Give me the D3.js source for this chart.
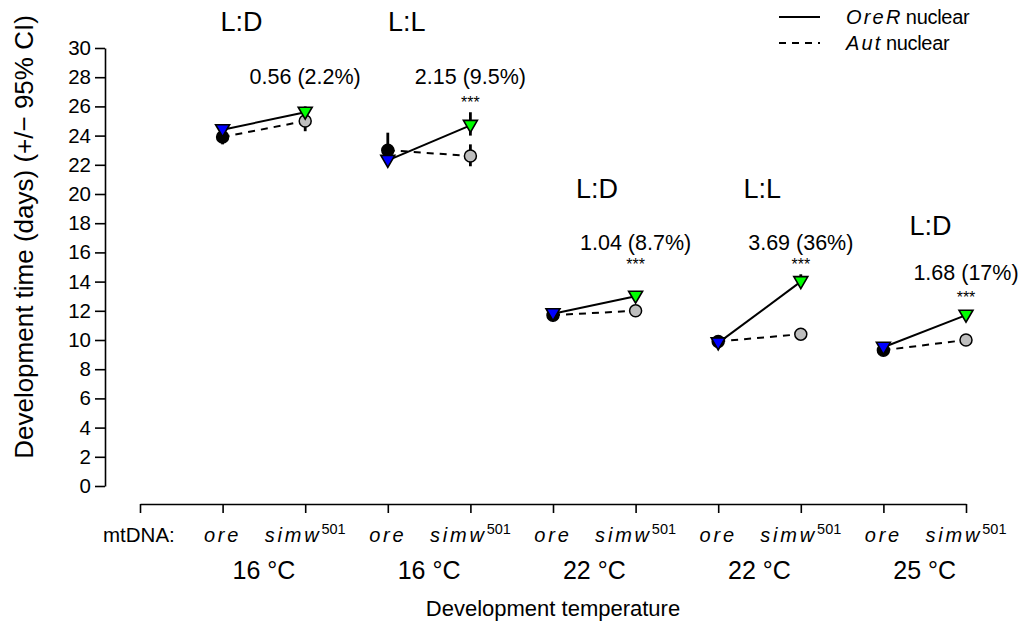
<!DOCTYPE html>
<html><head><meta charset="utf-8">
<script src="https://cdn.jsdelivr.net/npm/d3@7"></script>
<style>
body{margin:0;background:#fff;}
text{font-family:"Liberation Sans",Arial,Helvetica,sans-serif;fill:#000;}
</style></head>
<body><svg id="chart" width="1021" height="628"></svg>
<script>
// ---- data ----
const temperatures = ["16 °C","16 °C","22 °C","22 °C","25 °C"];
const photoperiods = ["L:D","L:L","L:D","L:L","L:D"];
const mtLabels = ["ore","simw"];
const yTicks = [0,2,4,6,8,10,12,14,16,18,20,22,24,26,28,30];
// OreR nuclear (solid, triangles): [ore, simw] per condition
const oreRMean = [[24.4,25.6],[22.3,24.7],[11.8,13.0],[9.8,14.0],[9.5,11.7]];
const oreRLo   = [[24.1,25.2],[22.0,24.0],[11.6,12.8],[9.6,13.7],[9.3,11.5]];
const oreRHi   = [[24.7,26.0],[22.6,25.6],[12.0,13.2],[10.0,14.5],[9.7,11.9]];
// Aut nuclear (dashed, circles)
const autMean = [[23.9,25.0],[23.0,22.6],[11.7,12.0],[9.9,10.4],[9.3,10.0]];
const autLo   = [[23.4,24.3],[22.4,21.9],[11.5,11.8],[9.7,10.2],[9.1,9.8]];
const autHi   = [[24.4,25.6],[24.2,23.4],[11.9,12.2],[10.1,10.6],[9.5,10.2]];
const effects = ["0.56 (2.2%)","2.15 (9.5%)","1.04 (8.7%)","3.69 (36%)","1.68 (17%)"];
const signif  = ["","***","***","***","***"];

// ---- layout (pixel offsets for annotations, per condition) ----
const photoDX = [19,19,44,44,47];
const photoY  = [31,31,198,198,235];
const effectY = [84,84,250,250,280];
const starY   = [108,108,270,270,303];

const svg = d3.select("#chart");
const x = d3.scaleLinear().domain([0,10]).range([140,966]);
const y = d3.scaleLinear().domain([0,30]).range([486,48]);
const pos = (i,j) => 1 + 2*i + j;

// y axis
const yAx = svg.append("g").attr("transform","translate(105,0)")
  .call(d3.axisLeft(y).tickValues(yTicks).tickSize(10).tickPadding(4).tickSizeOuter(0));
yAx.select(".domain").attr("stroke-width",1.6);
yAx.selectAll(".tick line").attr("stroke-width",1.6);
yAx.selectAll(".tick text").attr("font-size",20.5).attr("font-family","Liberation Sans, Arial, sans-serif");

// x axis
const xAx = svg.append("g").attr("transform","translate(0,504)")
  .call(d3.axisBottom(x).tickValues(d3.range(0,11)).tickSize(9).tickFormat("").tickSizeOuter(0));
xAx.select(".domain").attr("stroke-width",1.6);
xAx.selectAll(".tick line").attr("stroke-width",1.6);

// mtDNA labels
svg.append("text").attr("x",103).attr("y",542).attr("font-size",20.5).text("mtDNA:");
temperatures.forEach((t,i)=>{
  mtLabels.forEach((m,j)=>{
    const tx = svg.append("text").attr("x",x(pos(i,j))).attr("y",542)
      .attr("text-anchor","middle").attr("font-size",20);
    tx.append("tspan").attr("font-style","italic").attr("letter-spacing","2.8px").text(m);
    if(m==="simw") tx.append("tspan").attr("font-size",14.5).attr("dy",-8).text("501");
  });
  svg.append("text").attr("x",(x(pos(i,0))+x(pos(i,1)))/2).attr("y",579)
    .attr("text-anchor","middle").attr("font-size",25).text(t);
});
svg.append("text").attr("x",553).attr("y",616).attr("text-anchor","middle")
  .attr("font-size",22).text("Development temperature");
svg.append("text").attr("transform","translate(33,237) rotate(-90)")
  .attr("text-anchor","middle").attr("font-size",26)
  .text("Development time (days) (+/\u2212 95% CI)");

// series
const series = [
  {mean:autMean, lo:autLo, hi:autHi, dash:"7,6", shape:"circle", fills:["#000000","#bebebe"]},
  {mean:oreRMean, lo:oreRLo, hi:oreRHi, dash:null, shape:"tri", fills:["#0000ff","#00ff00"]}
];
const g = svg.append("g");
series.forEach(s=>{
  s.mean.forEach((pair,i)=>{
    g.append("line").attr("x1",x(pos(i,0))).attr("x2",x(pos(i,1)))
      .attr("y1",y(pair[0])).attr("y2",y(pair[1]))
      .attr("stroke","#000").attr("stroke-width",2)
      .attr("stroke-dasharray",s.dash);
  });
});
series.forEach(s=>{
  s.mean.forEach((pair,i)=>{
    pair.forEach((v,j)=>{
      g.append("line").attr("x1",x(pos(i,j))).attr("x2",x(pos(i,j)))
        .attr("y1",y(s.lo[i][j])).attr("y2",y(s.hi[i][j]))
        .attr("stroke","#000").attr("stroke-width",2.8);
    });
  });
});
series.forEach(s=>{
  s.mean.forEach((pair,i)=>{
    pair.forEach((v,j)=>{
      const cx = x(pos(i,j)), cy = y(v);
      if(s.shape==="circle"){
        g.append("circle").attr("cx",cx).attr("cy",cy).attr("r",6)
          .attr("fill",s.fills[j]).attr("stroke","#000").attr("stroke-width",1.5);
      } else {
        g.append("path").attr("d",`M${cx-7},${cy-5}L${cx+7},${cy-5}L${cx},${cy+7}Z`)
          .attr("fill",s.fills[j]).attr("stroke","#000").attr("stroke-width",1.6)
          .attr("stroke-linejoin","miter");
      }
    });
  });
});

// annotations
photoperiods.forEach((p,i)=>{
  svg.append("text").attr("x",x(pos(i,0))+photoDX[i]).attr("y",photoY[i]).attr("text-anchor","middle")
    .attr("font-size",27).text(p);
  svg.append("text").attr("x",x(pos(i,1))).attr("y",effectY[i]).attr("text-anchor","middle")
    .attr("font-size",21.5).text(effects[i]);
  if(signif[i]) svg.append("text").attr("x",x(pos(i,1))).attr("y",starY[i]).attr("text-anchor","middle")
    .attr("font-size",16).text(signif[i]);
});

// legend
const leg = [{label:["OreR"," nuclear"], dash:null, y:17},{label:["Aut"," nuclear"], dash:"7,6", y:43}];
leg.forEach(l=>{
  svg.append("line").attr("x1",779).attr("x2",820).attr("y1",l.y).attr("y2",l.y)
    .attr("stroke","#000").attr("stroke-width",2).attr("stroke-dasharray",l.dash);
  const t = svg.append("text").attr("x",846).attr("y",l.y+7).attr("font-size",20).attr("letter-spacing","-0.3px");
  t.append("tspan").attr("font-style","italic").attr("letter-spacing","2.2px").text(l.label[0]);
  t.append("tspan").attr("dx",-2).text(l.label[1]);
});
</script></body></html>
